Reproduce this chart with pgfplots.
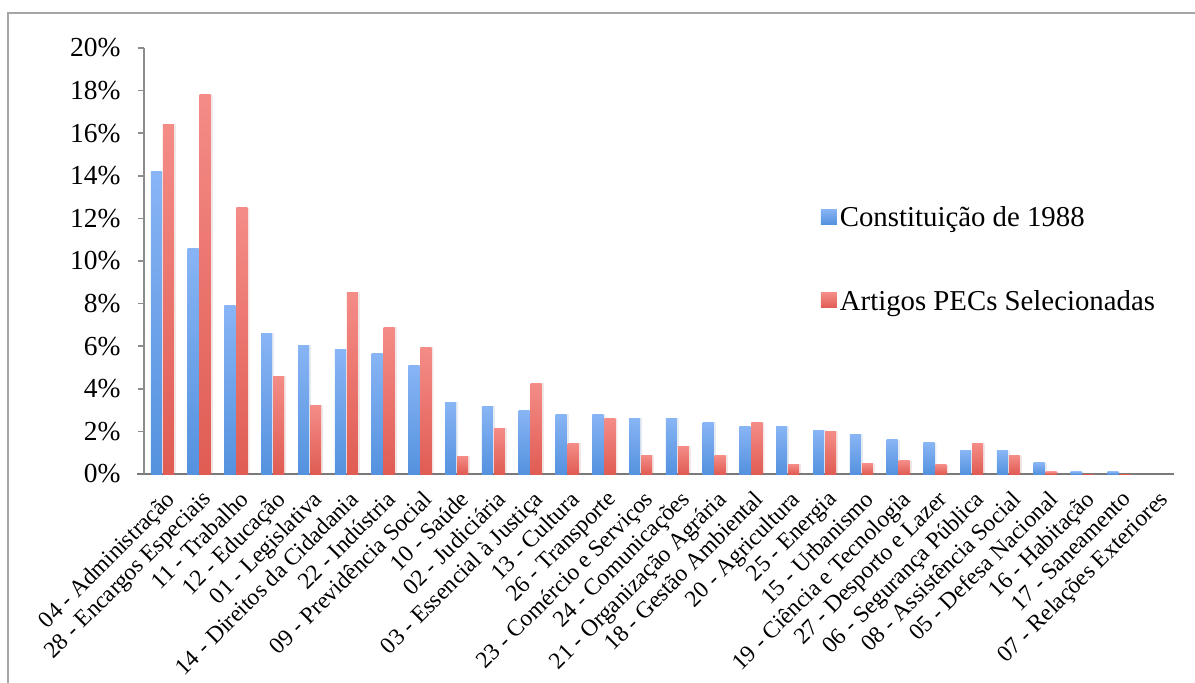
\documentclass[border=0pt]{standalone}
\usepackage{pgfplots}
\usepackage{pgfplotstable}
\pgfplotsset{compat=1.18}
\usepackage{fontspec}
\setmainfont{Liberation Serif}
\usetikzlibrary{shadows}

\definecolor{blueTop}{HTML}{A2C6FF}
\definecolor{blueBot}{HTML}{3A80D4}
\definecolor{redTop}{HTML}{FFA4A0}
\definecolor{redBot}{HTML}{D5443A}
\definecolor{axisgray}{HTML}{8C8C8C}
\definecolor{basegray}{HTML}{7A7A7A}
\definecolor{framegray}{HTML}{A6A6A6}

% linear top-to-bottom gradients for the bars
\pgfdeclareverticalshading{bluebar}{100bp}{color(0bp)=(blueBot); color(100bp)=(blueTop)}
\pgfdeclareverticalshading{redbar}{100bp}{color(0bp)=(redBot); color(100bp)=(redTop)}

% share of each function (%): Constitution of 1988 vs. selected PEC articles
\pgfplotstableread{
idx c88   pec
0   14.20 16.40
1   10.60 17.80
2    7.90 12.50
3    6.60  4.60
4    6.05  3.20
5    5.86  8.52
6    5.67  6.90
7    5.11  5.95
8    3.37  0.84
9    3.17  2.14
10   2.98  4.25
11   2.80  1.44
12   2.80  2.61
13   2.61  0.87
14   2.61  1.30
15   2.42  0.87
16   2.23  2.42
17   2.23  0.45
18   2.05  2.00
19   1.84  0.48
20   1.61  0.62
21   1.47  0.44
22   1.09  1.42
23   1.09  0.86
24   0.53  0.11
25   0.11  0.03
26   0.11  0.03
}\shares

\begin{document}
\begin{tikzpicture}[x=1pt,y=1pt]
\useasboundingbox (0,0) rectangle (1195,683);
% outer chart frame
\draw[framegray, line width=1.5pt] (8,0) -- (8,670) -- (1195,670);
\begin{axis}[
  at={(144pt,209pt)}, anchor=south west,
  scale only axis, width=1030pt, height=426pt,
  xmin=-0.5, xmax=27.5, ymin=0, ymax=20,
  axis x line*=bottom, axis y line*=left,
  x axis line style={basegray, line width=2pt, -, shorten <=-7pt},
  y axis line style={axisgray, line width=1.5pt, -},
  ytick={0,2,...,20},
  yticklabel={\pgfmathprintnumber{\tick}\%},
  /pgf/number format/assume math mode=true,
  tick align=outside, major tick length=6pt,
  ytick style={axisgray, line width=1.5pt},
  yticklabel style={font=\fontsize{27.5}{27.5}\selectfont, text=black, xshift=-14pt},
  xtick={0,...,27},
  major x tick style={draw=none},
  xticklabels={{04 - Administração},{28 - Encargos Especiais},{11 - Trabalho},{12 - Educação},{01 - Legislativa},{14 - Direitos da Cidadania},{22 - Indústria},{09 - Previdência Social},{10 - Saúde},{02 - Judiciária},{03 - Essencial à Justiça},{13 - Cultura},{26 - Transporte},{23 - Comércio e Serviços},{24 - Comunicações},{21 - Organização Agrária},{18 - Gestão Ambiental},{20 - Agricultura},{25 - Energia},{15 - Urbanismo},{19 - Ciência e Tecnologia},{27 - Desporto e Lazer},{06 - Segurança Pública},{08 - Assistência Social},{05 - Defesa Nacional},{16 - Habitação},{17 - Saneamento},{07 - Relações Exteriores}},
  xticklabel style={rotate=45, anchor=north east, inner sep=0pt, font=\fontsize{23.5}{23.5}\selectfont, xshift=-5pt, yshift=-8pt},
  legend style={at={(axis description cs:0.657,0.633)}, anchor=north west, draw=none, fill=none,
    font=\fontsize{28.8}{28.8}\selectfont, row sep=58pt, inner sep=0pt,
    nodes={inner xsep=3pt}},
  legend cell align=left,
  legend image code/.code={\path[#1, draw=none] (0pt,-7pt) rectangle (16pt,8pt);},
  bar width=11pt,
  unbounded coords=discard,
  barstyle/.style={ybar, draw=none, forget plot,
    drop shadow={shadow xshift=2pt, shadow yshift=0pt, opacity=0.10}},
]
% one plot per bar, so that every bar carries its own full gradient
\pgfplotsinvokeforeach{0,...,26}{
  \addplot[barstyle, shading=bluebar, bar shift=-6pt,
    x filter/.expression={x==#1 ? x : nan}] table[x=idx, y=c88] {\shares};
  \addplot[barstyle, shading=redbar, bar shift=6pt,
    x filter/.expression={x==#1 ? x : nan}] table[x=idx, y=pec] {\shares};
}
\addlegendimage{shading=bluebar}
\addlegendentry{Constituição de 1988}
\addlegendimage{shading=redbar}
\addlegendentry{Artigos PECs Selecionadas}
\end{axis}
\end{tikzpicture}
\end{document}
